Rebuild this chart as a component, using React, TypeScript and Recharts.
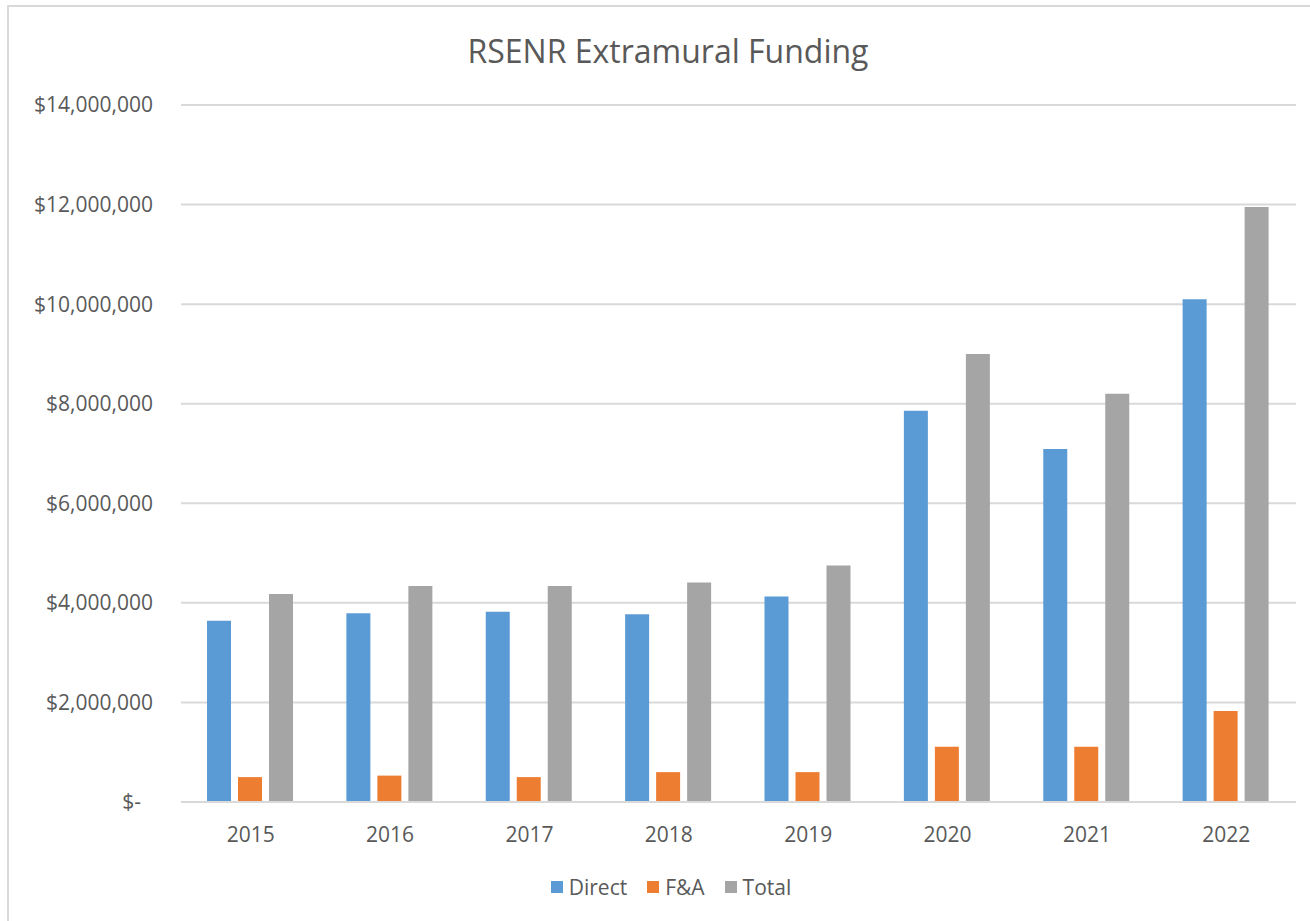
import React from 'react';
import { BarChart, Bar, XAxis, YAxis, CartesianGrid, Legend } from 'recharts';

const years = ['2015', '2016', '2017', '2018', '2019', '2020', '2021', '2022'];
const directValues = [3640000, 3790000, 3820000, 3770000, 4130000, 7860000, 7090000, 10100000];
const faValues = [500000, 530000, 500000, 600000, 600000, 1110000, 1110000, 1830000];
const totalValues = [4180000, 4340000, 4340000, 4410000, 4750000, 9000000, 8200000, 11950000];
const yTicks = [0, 2000000, 4000000, 6000000, 8000000, 10000000, 12000000, 14000000];

const data = years.map((y, i) => ({
  year: y,
  Direct: directValues[i],
  'F&A': faValues[i],
  Total: totalValues[i],
}));

const FONT = '"Open Sans", "Liberation Sans", sans-serif';
const TEXT = '#595959';
const GRID = '#D9D9D9';

const fmt = (v: number) => (v === 0 ? '$-\u2007' : '$' + v.toLocaleString('en-US'));

const renderLegend = (props: any) => {
  const payload = props.payload || [];
  return (
    <div
      style={{
        display: 'flex',
        justifyContent: 'center',
        alignItems: 'center',
        fontFamily: FONT,
        fontSize: 21,
        color: TEXT,
        lineHeight: '28px',
      }}
    >
      {payload.map((p: any, i: number) => (
        <div key={i} style={{ display: 'flex', alignItems: 'center', marginRight: i < payload.length - 1 ? 20 : 0 }}>
          <span style={{ display: 'inline-block', width: 12, height: 12, background: p.color, marginRight: 6 }} />
          <span>{p.value}</span>
        </div>
      ))}
    </div>
  );
};

export default function App() {
  return (
    <div
      style={{
        position: 'absolute',
        left: 0,
        top: 0,
        width: 1310,
        height: 921,
        overflow: 'hidden',
        background: '#ffffff',
      }}
    >
      <div
        style={{
          position: 'absolute',
          left: 7,
          top: 5,
          width: 1320,
          height: 930,
          borderLeft: `2px solid ${GRID}`,
          borderTop: `2px solid ${GRID}`,
        }}
      />
      <div
        style={{
          position: 'absolute',
          left: 0,
          width: 1336,
          top: 29,
          textAlign: 'center',
          fontFamily: FONT,
          fontSize: 32,
          color: TEXT,
          lineHeight: 'normal',
        }}
      >
        RSENR Extramural Funding
      </div>
      <div style={{ position: 'absolute', left: 0, top: 0 }}>
        <BarChart
          width={1310}
          height={921}
          data={data}
          margin={{ top: 105, right: 14, left: 0, bottom: 79 }}
          barCategoryGap={26}
          barGap={7}
          style={{ fontFamily: FONT }}
        >
          <CartesianGrid vertical={false} stroke={GRID} strokeWidth={2} />
          <XAxis
            dataKey="year"
            height={40}
            axisLine={{ stroke: GRID, strokeWidth: 2 }}
            tickLine={false}
            tickSize={0}
            tickMargin={25}
            tick={{ fill: TEXT, fontSize: 21, fontFamily: FONT }}
          />
          <YAxis
            width={181}
            domain={[0, 14000000]}
            ticks={yTicks}
            interval={0}
            axisLine={false}
            tickLine={false}
            tickSize={0}
            tickMargin={28}
            tickFormatter={fmt}
            tick={{ fill: TEXT, fontSize: 21, fontFamily: FONT }}
          />
          <Legend
            layout="horizontal"
            verticalAlign="middle"
            align="center"
            content={renderLegend}
            wrapperStyle={{ top: 873, left: 0, width: 1342 }}
          />
          <Bar dataKey="Direct" fill="#5B9BD5" isAnimationActive={false} />
          <Bar dataKey="F&A" fill="#ED7D31" isAnimationActive={false} />
          <Bar dataKey="Total" fill="#A5A5A5" isAnimationActive={false} />
        </BarChart>
      </div>
    </div>
  );
}
